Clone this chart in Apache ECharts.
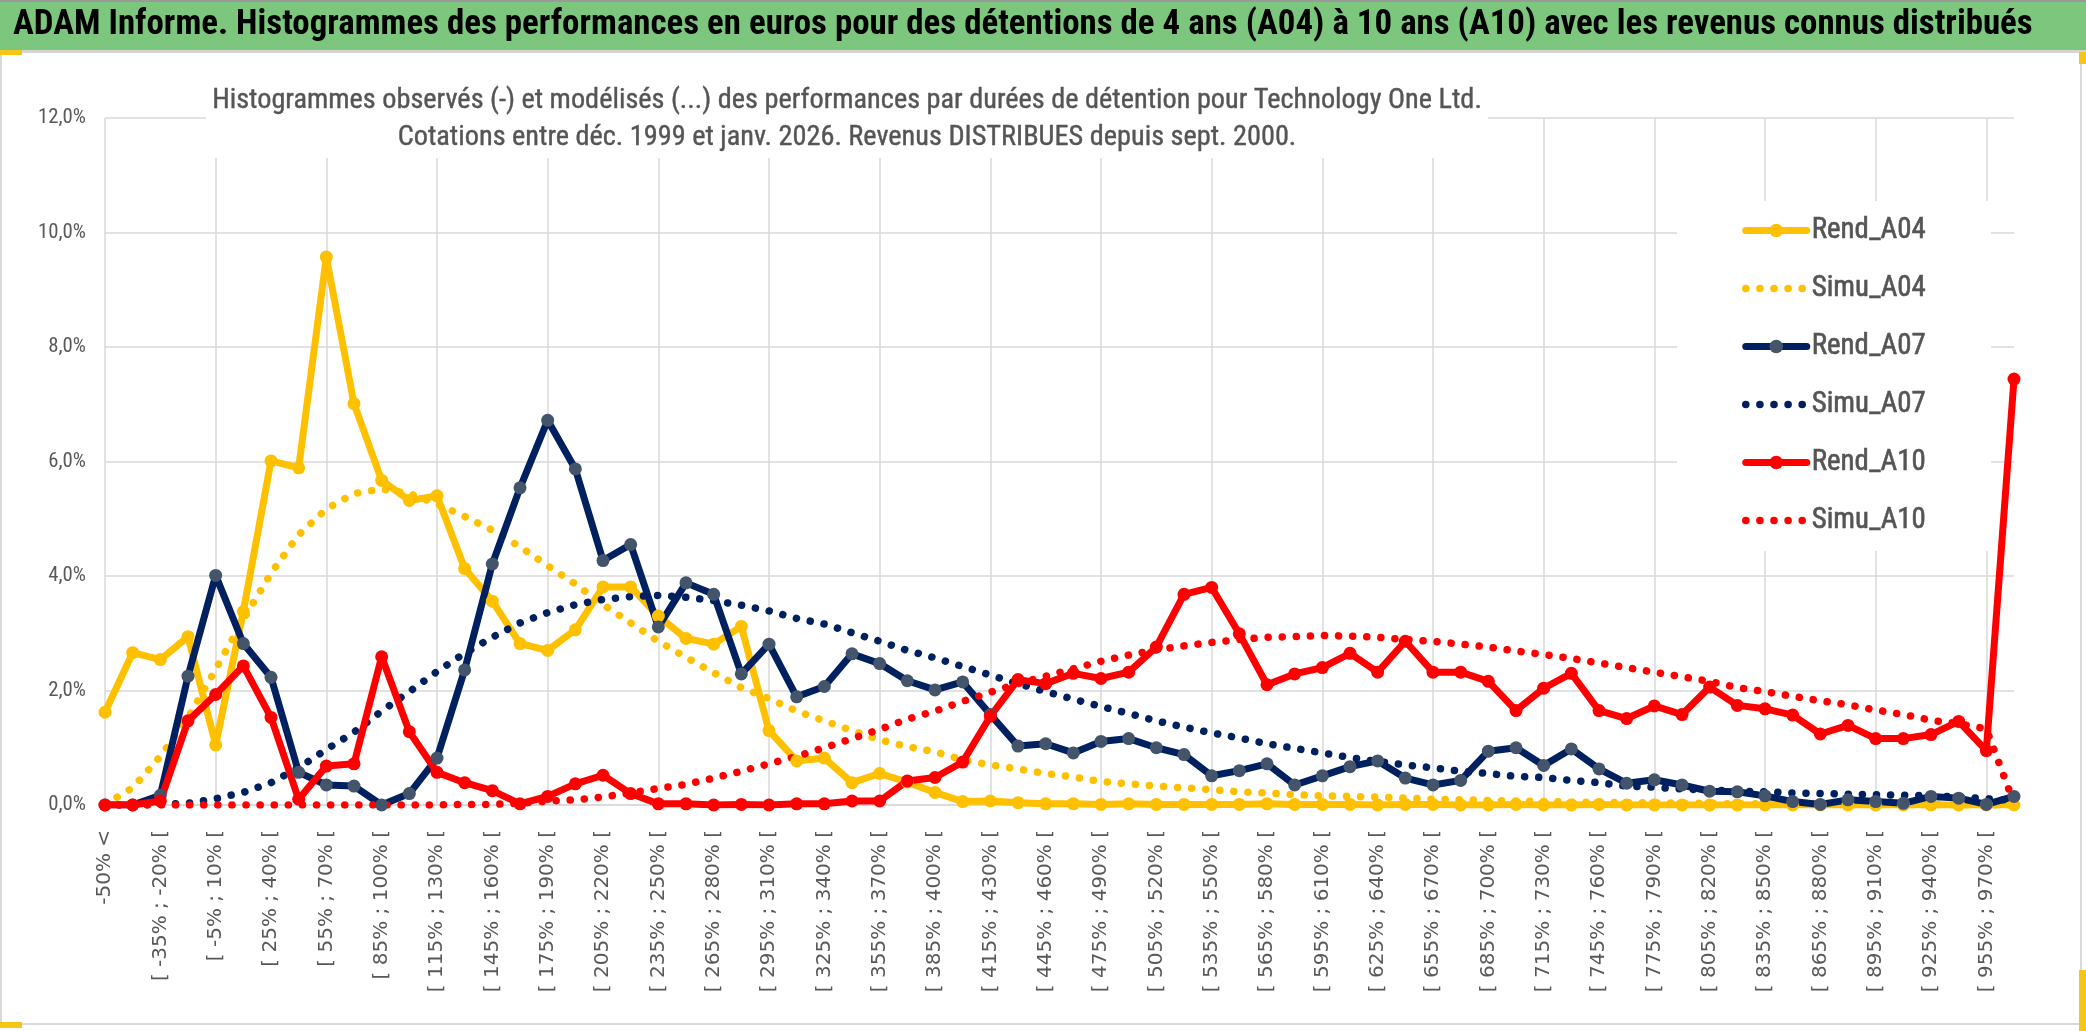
<!DOCTYPE html>
<html><head><meta charset="utf-8">
<script src="https://cdn.jsdelivr.net/npm/echarts@6/dist/echarts.min.js"></script>
<style>html,body{margin:0;padding:0;background:#fff}#c{width:2086px;height:1031px}</style>
</head><body><div id="c"></div>
<script>
const categories = ["-50% <",
"[ -50% ; -35% [","[ -35% ; -20% [","[ -20% ; -5% [","[ -5% ; 10% [","[ 10% ; 25% [","[ 25% ; 40% [","[ 40% ; 55% [","[ 55% ; 70% [","[ 70% ; 85% [","[ 85% ; 100% [",
"[ 100% ; 115% [","[ 115% ; 130% [","[ 130% ; 145% [","[ 145% ; 160% [","[ 160% ; 175% [","[ 175% ; 190% [","[ 190% ; 205% [","[ 205% ; 220% [","[ 220% ; 235% [","[ 235% ; 250% [",
"[ 250% ; 265% [","[ 265% ; 280% [","[ 280% ; 295% [","[ 295% ; 310% [","[ 310% ; 325% [","[ 325% ; 340% [","[ 340% ; 355% [","[ 355% ; 370% [","[ 370% ; 385% [","[ 385% ; 400% [",
"[ 400% ; 415% [","[ 415% ; 430% [","[ 430% ; 445% [","[ 445% ; 460% [","[ 460% ; 475% [","[ 475% ; 490% [","[ 490% ; 505% [","[ 505% ; 520% [","[ 520% ; 535% [","[ 535% ; 550% [",
"[ 550% ; 565% [","[ 565% ; 580% [","[ 580% ; 595% [","[ 595% ; 610% [","[ 610% ; 625% [","[ 625% ; 640% [","[ 640% ; 655% [","[ 655% ; 670% [","[ 670% ; 685% [","[ 685% ; 700% [",
"[ 700% ; 715% [","[ 715% ; 730% [","[ 730% ; 745% [","[ 745% ; 760% [","[ 760% ; 775% [","[ 775% ; 790% [","[ 790% ; 805% [","[ 805% ; 820% [","[ 820% ; 835% [","[ 835% ; 850% [",
"[ 850% ; 865% [","[ 865% ; 880% [","[ 880% ; 895% [","[ 895% ; 910% [","[ 910% ; 925% [","[ 925% ; 940% [","[ 940% ; 955% [","[ 955% ; 970% [","> 970%"];

// values in percent
const rendA04 = [1.62,2.66,2.54,2.94,1.05,3.38,6.01,5.89,9.57,7.01,
5.67,5.32,5.40,4.13,3.56,2.82,2.70,3.06,3.81,3.81,
3.30,2.91,2.81,3.12,1.30,0.77,0.82,0.39,0.55,0.40,
0.22,0.06,0.07,0.04,0.02,0.02,0.01,0.02,0.01,0.01,
0.01,0.01,0.02,0.01,0.01,0.01,0.00,0.01,0.01,0.00,
0.00,0.01,0.00,0.00,0.01,0.00,0.00,0.00,0.00,0.00,
0.00,0.00,0.00,0.00,0.00,0.00,0.00,0.00,0.00,0.00];
const simuA04 = [0.01,0.30,0.85,1.52,2.37,3.24,4.05,4.72,5.17,5.44,
5.52,5.44,5.26,5.04,4.80,4.51,4.18,3.86,3.50,3.18,
2.86,2.58,2.31,2.05,1.86,1.64,1.47,1.30,1.14,1.02,
0.93,0.79,0.70,0.63,0.55,0.49,0.41,0.37,0.33,0.30,
0.27,0.23,0.21,0.18,0.16,0.15,0.14,0.12,0.10,0.09,
0.08,0.07,0.06,0.05,0.05,0.04,0.04,0.03,0.03,0.02,
0.02,0.02,0.01,0.01,0.01,0.01,0.01,0.00,0.00,0.00];
const rendA07 = [0.00,0.00,0.17,2.25,4.01,2.82,2.23,0.57,0.35,0.33,
0.00,0.20,0.82,2.36,4.21,5.54,6.72,5.87,4.27,4.55,
3.11,3.88,3.68,2.29,2.81,1.89,2.07,2.64,2.47,2.17,
2.01,2.15,1.58,1.03,1.07,0.91,1.11,1.16,1.00,0.88,
0.51,0.60,0.72,0.35,0.51,0.67,0.77,0.47,0.35,0.43,
0.94,1.00,0.69,0.98,0.63,0.38,0.44,0.35,0.24,0.23,
0.16,0.06,0.01,0.09,0.06,0.03,0.15,0.12,0.01,0.15];
const simuA07 = [0.00,0.00,0.01,0.03,0.11,0.22,0.39,0.65,0.97,1.27,
1.64,1.98,2.33,2.65,2.93,3.18,3.36,3.50,3.59,3.64,
3.66,3.63,3.57,3.49,3.39,3.26,3.16,3.01,2.86,2.70,
2.57,2.42,2.27,2.12,1.98,1.85,1.72,1.60,1.47,1.36,
1.26,1.17,1.07,0.99,0.91,0.83,0.76,0.70,0.65,0.59,
0.55,0.50,0.48,0.43,0.39,0.33,0.31,0.28,0.26,0.24,
0.23,0.21,0.20,0.19,0.18,0.17,0.16,0.14,0.11,0.08];
const rendA10 = [0.00,0.00,0.07,1.47,1.93,2.43,1.53,0.10,0.68,0.72,
2.59,1.28,0.57,0.39,0.25,0.02,0.15,0.37,0.52,0.20,
0.02,0.02,0.00,0.01,0.00,0.02,0.02,0.07,0.07,0.42,
0.48,0.75,1.55,2.19,2.12,2.30,2.21,2.32,2.76,3.68,
3.80,2.99,2.10,2.29,2.40,2.65,2.32,2.86,2.32,2.32,
2.16,1.65,2.04,2.30,1.65,1.51,1.73,1.58,2.06,1.74,
1.68,1.57,1.24,1.39,1.16,1.16,1.23,1.46,0.95,7.44];
const simuA10 = [0.00,0.00,0.00,0.00,0.00,0.00,0.00,0.00,0.00,0.00,
0.00,0.00,0.00,0.01,0.01,0.03,0.07,0.09,0.14,0.21,
0.29,0.36,0.47,0.59,0.72,0.85,1.00,1.16,1.32,1.50,
1.64,1.81,1.97,2.12,2.25,2.38,2.51,2.62,2.71,2.78,
2.84,2.89,2.93,2.94,2.96,2.95,2.93,2.89,2.86,2.81,
2.76,2.69,2.63,2.56,2.48,2.40,2.32,2.24,2.16,2.05,
1.98,1.90,1.82,1.75,1.66,1.58,1.48,1.42,1.33,0.03];

const mainTitle = "ADAM Informe. Histogrammes des performances en euros pour des détentions de 4 ans (A04) à 10 ans (A10) avec les revenus connus distribués";
const subTitle1 = "Histogrammes observés (-) et modélisés (...) des performances par durées de détention pour Technology One Ltd.";
const subTitle2 = "Cotations entre déc. 1999 et janv. 2026. Revenus DISTRIBUES depuis sept. 2000.";

const NARROW = '"Liberation Sans Narrow", "Roboto Condensed", "Open Sans", sans-serif';
const ctx = document.createElement('canvas').getContext('2d');
function fitSize(text, family, weight, target) {
  ctx.font = weight + ' 100px ' + family;
  return 100 * target / ctx.measureText(text).width;
}
const fsMain = fitSize(mainTitle, NARROW, 'bold', 2020);
const fsSub = fitSize(subTitle1, NARROW, 'normal', 1270);
const fsLeg = fitSize('Rend_A04', NARROW, 'normal', 114);
const fsY = fitSize('12,0%', NARROW, 'normal', 48);

const YELLOW = '#FFC000', NAVY = '#002060', NAVYMARK = '#44546A', RED = '#FF0000';
const REND_W = 7, SIMU_W = 7.5, DOTS = [0.1, 14];

const chart = echarts.init(document.getElementById('c'), null, {renderer: 'canvas'});

function rend(name, data, lineColor, markColor) {
  return {name, type: 'line', data, symbol: 'circle', symbolSize: 13, showSymbol: true,
    lineStyle: {color: lineColor, width: REND_W, join: 'round'}, itemStyle: {color: markColor, borderWidth: 0},
    emphasis: {disabled: true}};
}
function simu(name, data, color) {
  return {name, type: 'line', data, symbol: 'none', showSymbol: false,
    lineStyle: {color, width: SIMU_W, type: DOTS, cap: 'round'}, itemStyle: {color},
    emphasis: {disabled: true}};
}
function legRend(name, lineColor, markColor) {
  return {name, lineStyle: {color: lineColor, width: REND_W, cap: 'round', type: 'solid'}, itemStyle: {color: markColor, borderWidth: 0}};
}
function legSimu(name, color) {
  return {name, lineStyle: {color, width: SIMU_W, type: DOTS, cap: 'round'}, itemStyle: {opacity: 0}};
}

chart.setOption({
  animation: false,
  backgroundColor: '#ffffff',
  graphic: [
    {type: 'rect', shape: {x: 1, y: 52, width: 2080, height: 972}, style: {fill: 'none', stroke: '#D9D9D9', lineWidth: 2}, z: -1},
    {type: 'rect', shape: {x: 0, y: 0, width: 2086, height: 50}, style: {fill: '#7DC67E'}, z: -1},
    {type: 'rect', shape: {x: 0, y: 0, width: 2086, height: 2}, style: {fill: '#9A9A9A'}, z: -1},
    {type: 'rect', shape: {x: 0, y: 50, width: 2086, height: 3}, style: {fill: '#D4D4D4'}, z: -1},
    {type: 'rect', shape: {x: 0, y: 50, width: 22, height: 5}, style: {fill: '#F5C518'}, z: -1},
    {type: 'rect', shape: {x: 0, y: 1022, width: 22, height: 6}, style: {fill: '#F5C518'}, z: -1},
    {type: 'rect', shape: {x: 2079, y: 970, width: 7, height: 61}, style: {fill: '#F5C518'}, z: -1},
    {type: 'rect', shape: {x: 2079, y: 52, width: 7, height: 12}, style: {fill: '#F5C518'}, z: -1}
  ],
  title: [
    {text: mainTitle, left: 13, top: 25, textVerticalAlign: 'middle', padding: 0,
     textStyle: {fontFamily: NARROW, fontWeight: 'bold', fontSize: fsMain, color: '#000000'}},
    {text: subTitle1 + '\n' + subTitle2, left: 841, textAlign: 'center', top: 82,
     backgroundColor: '#ffffff', padding: [0, 6, 2, 6],
     textStyle: {fontFamily: NARROW, fontWeight: 'normal', fontSize: fsSub, lineHeight: 37, color: '#555555', align: 'center',
       textBorderColor: '#555555', textBorderWidth: 0.4}}
  ],
  legend: {
    orient: 'vertical', left: 1677, top: 201, backgroundColor: '#ffffff',
    padding: [14, 65, 15, 65], itemGap: 27, itemWidth: 61, itemHeight: 17,
    textStyle: {fontFamily: NARROW, fontSize: fsLeg, lineHeight: 31, color: '#555555',
      textBorderColor: '#555555', textBorderWidth: 0.6},
    data: [
      legRend('Rend_A04', YELLOW, YELLOW),
      legSimu('Simu_A04', YELLOW),
      legRend('Rend_A07', NAVY, NAVYMARK),
      legSimu('Simu_A07', NAVY),
      legRend('Rend_A10', RED, RED),
      legSimu('Simu_A10', RED)
    ]
  },
  grid: {left: 105, right: 72, top: 118, bottom: 226, containLabel: false},
  xAxis: {
    type: 'category', data: categories, boundaryGap: false,
    axisLine: {lineStyle: {color: '#D9D9D9', width: 1.5}},
    axisTick: {show: false},
    axisLabel: {rotate: 90, interval: 1, fontFamily: '"DejaVu Sans", sans-serif', fontSize: 20, color: '#595959', margin: 25},
    splitLine: {show: true, interval: 3, lineStyle: {color: '#D9D9D9', width: 1.5}}
  },
  yAxis: {
    type: 'value', min: 0, max: 12, interval: 2,
    axisLine: {show: false}, axisTick: {show: false},
    axisLabel: {fontFamily: NARROW, fontSize: fsY, color: '#595959', margin: 19,
      formatter: v => v.toFixed(1).replace('.', ',') + '%'},
    splitLine: {lineStyle: {color: '#D9D9D9', width: 1.5}}
  },
  series: [
    rend('Rend_A04', rendA04, YELLOW, YELLOW),
    simu('Simu_A04', simuA04, YELLOW),
    rend('Rend_A07', rendA07, NAVY, NAVYMARK),
    simu('Simu_A07', simuA07, NAVY),
    rend('Rend_A10', rendA10, RED, RED),
    simu('Simu_A10', simuA10, RED)
  ]
});
</script></body></html>
